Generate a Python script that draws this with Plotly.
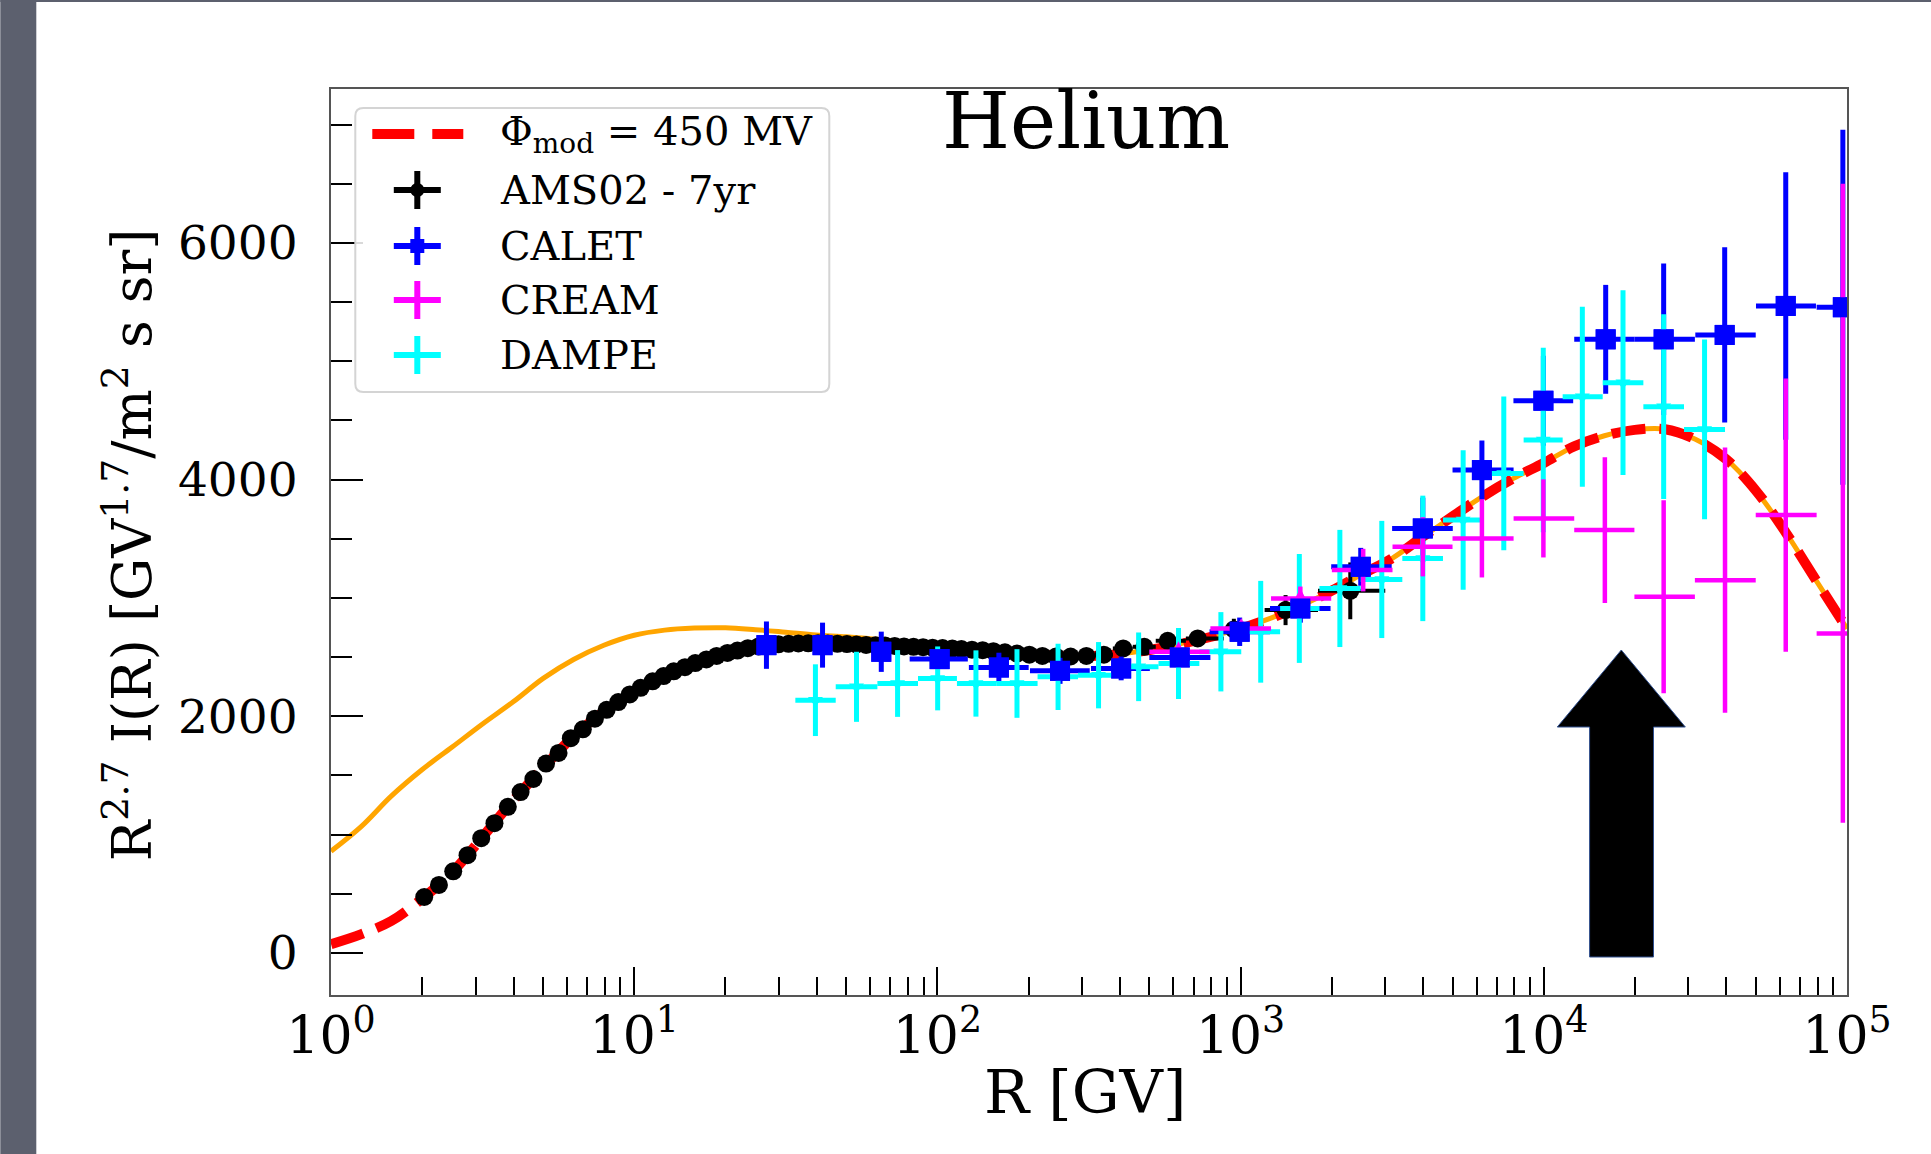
import plotly.graph_objects as go

# ---------------- data ----------------
# AMS-02 (7 yr) helium: rigidity bin edges, bin rigidity, R^2.7 * flux and errors
ams_edges = [
    1.92, 2.15, 2.40, 2.67, 2.97, 3.29, 3.64, 4.02, 4.43, 4.88,
    5.37, 5.90, 6.47, 7.09, 7.76, 8.48, 9.26, 10.1, 11.0, 12.0,
    13.0, 14.1, 15.3, 16.6, 18.0, 19.5, 21.1, 22.8, 24.7, 26.7,
    28.8, 31.1, 33.5, 36.1, 38.9, 41.9, 45.1, 48.5, 52.2, 56.1,
    60.3, 64.8, 69.7, 74.9, 80.5, 86.5, 93.0, 100, 108, 116,
    125, 135, 147, 160, 175, 192, 211, 233, 259, 291,
    330, 379, 441, 525, 660, 880, 1200, 1800, 3000,
]
ams_R = [
    2.03, 2.27, 2.53, 2.82, 3.13, 3.46, 3.83, 4.22, 4.65, 5.12,
    5.63, 6.18, 6.77, 7.42, 8.11, 8.86, 9.67, 10.5, 11.5, 12.5,
    13.5, 14.7, 15.9, 17.3, 18.7, 20.3, 21.9, 23.7, 25.7, 27.7,
    29.9, 32.3, 34.8, 37.5, 40.4, 43.5, 46.8, 50.3, 54.1, 58.2,
    62.5, 67.2, 72.3, 77.6, 83.4, 89.7, 96.4, 104, 112, 120,
    130, 141, 153, 167, 183, 201, 222, 246, 275, 310,
    354, 410, 481, 575, 722, 950, 1407, 2300,
]
ams_flux = [
    473, 575, 690, 826, 970, 1097, 1235, 1360, 1470, 1600,
    1690, 1815, 1890, 1980, 2055, 2120, 2185, 2240, 2295, 2340,
    2380, 2415, 2450, 2480, 2510, 2535, 2555, 2575, 2590, 2600,
    2608, 2612, 2615, 2616, 2616, 2614, 2612, 2610, 2607, 2603,
    2600, 2597, 2594, 2590, 2587, 2584, 2580, 2577, 2572, 2568,
    2563, 2558, 2550, 2540, 2530, 2520, 2510, 2505, 2505, 2510,
    2520, 2573, 2587, 2638, 2658, 2734, 2897, 3060,
]
ams_err = [
    15, 15, 15, 15, 15, 15, 15, 15, 15, 15,
    18, 18, 18, 18, 18, 18, 18, 18, 18, 18,
    20, 20, 20, 20, 20, 20, 20, 20, 20, 20,
    22, 22, 22, 22, 22, 22, 22, 22, 22, 22,
    25, 25, 25, 25, 25, 25, 25, 25, 25, 25,
    30, 30, 30, 30, 30, 30, 30, 30, 30, 30,
    35, 40, 45, 55, 70, 90, 127, 240,
]

# CALET helium
calet_R = [27.3, 41.8, 65.3, 101.7, 159.5, 253.8, 403.7, 630, 993, 1574,
           2490, 3990, 6250, 9970, 16000, 24850, 39500, 62800, 96900]
calet_lo = [25.5, 39, 61, 81, 127, 202, 321, 500, 790, 1250,
            1990, 3160, 5000, 7940, 12600, 19900, 31600, 50100, 79400]
calet_hi = [29.2, 44.8, 70, 126, 200, 318, 502, 795, 1250, 1980,
            3150, 5010, 7950, 12500, 19900, 31500, 50000, 79000, 125000]
calet_flux = [2601, 2601, 2545, 2483, 2412, 2384, 2404, 2497, 2714, 2911,
              3263, 3587, 4080, 4666, 5185, 5185, 5222, 5467, 5456]
calet_err = [200, 190, 170, 60, 125, 110, 100, 60, 120, 120,
             160, 260, 250, 380, 460, 640, 740, 1130, 1500]

# CREAM helium
cream_R = [624, 1005, 1574, 2537, 3990, 6250, 9970, 15900, 24850, 39600, 62800, 96900]
cream_lo = [500, 795, 1260, 2000, 3170, 5000, 7950, 12600, 19900, 31500, 50000, 79400]
cream_hi = [790, 1260, 1990, 3170, 5000, 7950, 12600, 19900, 31500, 50000, 79400, 125000]
cream_flux = [2545, 2742, 2996, 3235, 3432, 3503, 3672, 3573, 3010, 3150, 3700, 2700]
cream_err_up = [50, 60, 100, 180, 250, 330, 330, 615, 815, 1120, 1155, 3800]
cream_err_dn = [50, 60, 100, 180, 250, 330, 330, 615, 815, 1120, 1155, 1600]
cream_n_diamond = 4   # first points carry the diamond symbol

# DAMPE helium
dampe_R = [39.6, 54.1, 73.9, 100.2, 134, 183, 250, 340, 461, 624, 861, 1165,
           1562, 2125, 2922, 3990, 5420, 7380, 9960, 13400, 18250, 24850, 33900]
dampe_lo = [34.0, 46.2, 63.4, 86.3, 116, 157, 214, 291, 396, 536, 731, 1005,
            1350, 1820, 2490, 3415, 4650, 6330, 8580, 11540, 15640, 21300, 29000]
dampe_hi = [46.2, 63.4, 86.3, 116, 157, 214, 291, 396, 536, 731, 1005, 1350,
            1820, 2490, 3415, 4650, 6330, 8580, 11540, 15640, 21300, 29000, 39600]
dampe_flux = [2136, 2249, 2277, 2320, 2277, 2277, 2333, 2347, 2418, 2446, 2545, 2714,
              2911, 3080, 3156, 3334, 3658, 4052, 4334, 4700, 4819, 4616, 4424]
dampe_err = [303, 296, 282, 270, 280, 290, 280, 280, 290, 300, 335, 430,
             460, 495, 495, 530, 590, 650, 780, 760, 780, 780, 760]

# Model: local interstellar spectrum and modulated spectrum (Phi = 450 MV)
model_R = [1, 1.26, 1.58, 2, 2.51, 3.16, 3.98, 5.01, 6.31, 7.94,
           10, 12.6, 15.8, 20, 25.1, 31.6, 39.8, 50.1, 63.1, 79.4,
           100, 126, 158, 200, 251, 316, 398, 501, 631, 794,
           1000, 1259, 1585, 1995, 2512, 3162, 3981, 5012, 6310, 7943,
           10000, 12589, 15849, 19953, 25119, 31623, 39811, 50119, 63096, 79433,
           100000]
model_mod = [75, 160, 270, 460, 680, 980, 1285, 1565, 1830, 2040,
             2205, 2340, 2445, 2530, 2585, 2612, 2616, 2610, 2600, 2590,
             2578, 2565, 2547, 2525, 2510, 2508, 2525, 2560, 2610, 2670,
             2740, 2830, 2935, 3060, 3200, 3335, 3515, 3690, 3860, 4010,
             4140, 4280, 4370, 4420, 4425, 4340, 4175, 3905, 3545, 3140,
             2740]
model_lis = [860, 1070, 1325, 1550, 1740, 1935, 2120, 2320, 2480, 2600,
             2685, 2728, 2745, 2748, 2732, 2710, 2687, 2672, 2650, 2625,
             2600, 2578, 2555, 2530, 2513, 2510, 2527, 2562, 2612, 2672,
             2742, 2830, 2935, 3060, 3200, 3335, 3515, 3690, 3860, 4010,
             4140, 4280, 4370, 4420, 4425, 4340, 4175, 3905, 3545, 3140,
             2740]

x_tickvals = [1, 10, 100, 1000, 10000, 100000]
x_ticktext = ["10<sup>0</sup>", "10<sup>1</sup>", "10<sup>2</sup>",
              "10<sup>3</sup>", "10<sup>4</sup>", "10<sup>5</sup>"]
y_tickvals = [0, 2000, 4000, 6000]

legend_labels = ["\u03a6<sub>mod</sub> = 450 MV", "AMS02 - 7yr", "CALET", "CREAM", "DAMPE"]

# ---------------- figure ----------------
FONT = "DejaVu Serif"
FIG_W, FIG_H = 1931, 1154
L, R, T, B = 330.7, 1846.7, 89.0, 995.0
W, H = R - L, B - T


def px(x):
    return (x - L) / W


def py(y):
    return (B - y) / H


def xerr(centers, lo, hi):
    return ([h - c for c, h in zip(centers, hi)], [c - l for c, l in zip(centers, lo)])


fig = go.Figure()

# model curves
fig.add_trace(go.Scatter(x=model_R, y=model_lis, mode="lines",
                         line=dict(color="#FFA500", width=5, shape="spline")))
fig.add_trace(go.Scatter(x=model_R, y=model_mod, mode="lines",
                         line=dict(color="#FF0000", width=10, dash="34px,14px", shape="spline")))

# AMS-02
a_plus, a_minus = xerr(ams_R, ams_edges[:-1], ams_edges[1:])
fig.add_trace(go.Scatter(
    x=ams_R, y=ams_flux, mode="markers",
    marker=dict(color="black", size=18, symbol="circle"),
    error_y=dict(type="data", array=ams_err, color="black", thickness=4, width=0),
    error_x=dict(type="data", symmetric=False, array=a_plus, arrayminus=a_minus,
                 color="black", thickness=4, width=0),
))

# CALET
c_plus, c_minus = xerr(calet_R, calet_lo, calet_hi)
fig.add_trace(go.Scatter(
    x=calet_R, y=calet_flux, mode="markers",
    marker=dict(color="#0000FF", size=20, symbol="square"),
    error_y=dict(type="data", array=calet_err, color="#0000FF", thickness=5, width=0),
    error_x=dict(type="data", symmetric=False, array=c_plus, arrayminus=c_minus,
                 color="#0000FF", thickness=5, width=0),
))

# DAMPE
d_plus, d_minus = xerr(dampe_R, dampe_lo, dampe_hi)
fig.add_trace(go.Scatter(
    x=dampe_R, y=dampe_flux, mode="markers",
    marker=dict(color="#00FFFF", size=13, symbol="triangle-down"),
    error_y=dict(type="data", array=dampe_err, color="#00FFFF", thickness=5, width=0),
    error_x=dict(type="data", symmetric=False, array=d_plus, arrayminus=d_minus,
                 color="#00FFFF", thickness=5, width=0),
))

# CREAM
k_plus, k_minus = xerr(cream_R, cream_lo, cream_hi)
n = cream_n_diamond
for sl, size in ((slice(0, n), 15), (slice(n, None), 7)):
    fig.add_trace(go.Scatter(
        x=cream_R[sl], y=cream_flux[sl], mode="markers",
        marker=dict(color="#FF00FF", size=size, symbol="diamond-tall"),
        error_y=dict(type="data", symmetric=False, array=cream_err_up[sl],
                     arrayminus=cream_err_dn[sl], color="#FF00FF", thickness=4.5, width=0),
        error_x=dict(type="data", symmetric=False, array=k_plus[sl], arrayminus=k_minus[sl],
                     color="#FF00FF", thickness=4.5, width=0),
    ))

# CALET squares kept on top of the crossing error bars
fig.add_trace(go.Scatter(x=calet_R, y=calet_flux, mode="markers",
                         marker=dict(color="#0000FF", size=20, symbol="square")))

shapes = []
annotations = []

# slide background strips
shapes.append(dict(type="rect", xref="paper", yref="paper", layer="below",
                   x0=px(0), x1=px(36), y0=py(FIG_H), y1=py(0),
                   fillcolor="#5c606e", line=dict(width=0)))
shapes.append(dict(type="rect", xref="paper", yref="paper", layer="below",
                   x0=px(0), x1=px(FIG_W), y0=py(2), y1=py(0),
                   fillcolor="#5c606e", line=dict(width=0)))

# legend frame (rounded)
lx0, lx1, ly0, ly1 = px(355), px(829), py(108), py(392)
rx, ry = 8 / W, 8 / H
frame = (f"M {lx0+rx},{ly0} L {lx1-rx},{ly0} Q {lx1},{ly0} {lx1},{ly0-ry} "
         f"L {lx1},{ly1+ry} Q {lx1},{ly1} {lx1-rx},{ly1} L {lx0+rx},{ly1} "
         f"Q {lx0},{ly1} {lx0},{ly1+ry} L {lx0},{ly0-ry} Q {lx0},{ly0} {lx0+rx},{ly0} Z")
shapes.append(dict(type="path", xref="paper", yref="paper", path=frame,
                   fillcolor="rgba(255,255,255,0.85)", line=dict(color="#d4d4d4", width=2)))

row_y = [134, 190, 246, 300, 355]
text_x = 498
# model line sample
shapes.append(dict(type="line", xref="paper", yref="paper",
                   x0=px(372), x1=px(463), y0=py(row_y[0]), y1=py(row_y[0]),
                   line=dict(color="#FF0000", width=10, dash="42px,18px")))
# data samples: crosses with the centre marker
cx = 417
glyphs = [("black", "circle"), ("#0000FF", "square"), ("#FF00FF", None), ("#00FFFF", None)]
for (col, mk), yy in zip(glyphs, row_y[1:]):
    shapes.append(dict(type="line", xref="paper", yref="paper",
                       x0=px(cx - 23.5), x1=px(cx + 23.5), y0=py(yy), y1=py(yy),
                       line=dict(color=col, width=6)))
    shapes.append(dict(type="line", xref="paper", yref="paper",
                       x0=px(cx), x1=px(cx), y0=py(yy - 19), y1=py(yy + 19),
                       line=dict(color=col, width=6)))
    if mk:
        shapes.append(dict(type="circle" if mk == "circle" else "rect",
                           xref="paper", yref="paper",
                           x0=px(cx - 7), x1=px(cx + 7), y0=py(yy + 7), y1=py(yy - 7),
                           fillcolor=col, line=dict(width=0)))
for lab, yy in zip(legend_labels, row_y):
    annotations.append(dict(text=lab, x=px(text_x), y=py(yy), xref="paper", yref="paper",
                            xanchor="left", yanchor="middle", showarrow=False,
                            font=dict(family=FONT, size=40, color="black")))

# highlight arrow
ax = [1589.3, 1589.3, 1557, 1621, 1685, 1653.2, 1653.2]
ay = [957, 727, 727, 650, 727, 727, 957]
arrow = "M " + " L ".join(f"{px(a)},{py(b)}" for a, b in zip(ax, ay)) + " Z"
shapes.append(dict(type="path", xref="paper", yref="paper", path=arrow,
                   fillcolor="black", line=dict(color="#2f4f8f", width=1)))

# title and axis titles
annotations.append(dict(text="Helium", x=px(1086), y=py(121), xref="paper", yref="paper",
                        xanchor="center", yanchor="middle", showarrow=False,
                        font=dict(family=FONT, size=78, color="black")))
annotations.append(dict(text="R [GV]", x=px(1085), y=py(1092), xref="paper", yref="paper",
                        xanchor="center", yanchor="middle", showarrow=False,
                        font=dict(family=FONT, size=60, color="black")))
annotations.append(dict(text="R<sup>2.7</sup> I(R) [GV<sup>1.7</sup>/m<sup>2</sup> s sr]",
                        x=px(128), y=py(545), xref="paper", yref="paper", textangle=-90,
                        xanchor="center", yanchor="middle", showarrow=False,
                        font=dict(family=FONT, size=54, color="black")))

fig.update_layout(
    width=FIG_W, height=FIG_H,
    margin=dict(l=L, r=FIG_W - R, t=T, b=FIG_H - B, pad=0),
    paper_bgcolor="white", plot_bgcolor="white",
    showlegend=False,
    shapes=shapes, annotations=annotations,
    xaxis=dict(type="log", range=[0, 5], showgrid=False, zeroline=False,
               showline=True, mirror=True, linecolor="#555555", linewidth=2,
               ticks="inside", ticklen=28, tickwidth=2, tickcolor="black",
               tickmode="array", tickvals=x_tickvals, ticktext=x_ticktext,
               tickfont=dict(family=FONT, size=52, color="black"),
               ticklabelstandoff=-6,
               minor=dict(ticks="inside", ticklen=18, tickwidth=2, tickcolor="black",
                          dtick="D1", showgrid=False)),
    yaxis=dict(range=[-355, 7300], showgrid=False, zeroline=False,
               showline=True, mirror=True, linecolor="#555555", linewidth=2,
               ticks="inside", ticklen=32, tickwidth=2, tickcolor="black",
               tickmode="array", tickvals=y_tickvals,
               tickfont=dict(family=FONT, size=47, color="black"),
               ticklabelstandoff=22,
               minor=dict(ticks="inside", ticklen=21, tickwidth=2, tickcolor="black",
                          dtick=500, tick0=0, showgrid=False)),
)

fig.write_html("out.html")
